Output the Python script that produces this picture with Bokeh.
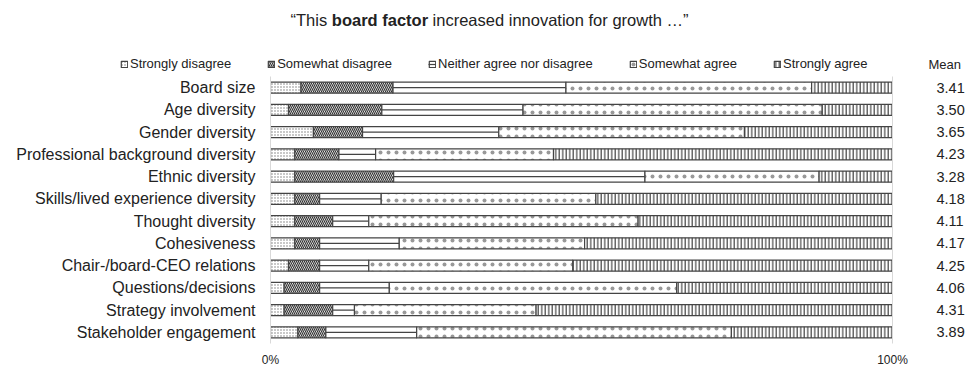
from bokeh.plotting import figure
from bokeh.layouts import column
from bokeh.models import (ColumnDataSource, FactorRange, Range1d, CategoricalAxis, FixedTicker,
                          Label, Legend, LegendItem)
from bokeh.embed import file_html
from bokeh.resources import INLINE

categories = ["Board size", "Age diversity", "Gender diversity", "Professional background diversity",
              "Ethnic diversity", "Skills/lived experience diversity", "Thought diversity", "Cohesiveness",
              "Chair-/board-CEO relations", "Questions/decisions", "Strategy involvement",
              "Stakeholder engagement"]
strongly_disagree = [4.9, 2.9, 6.9, 3.9, 3.9, 3.9, 3.9, 3.9, 2.9, 2.2, 2.2, 4.4]
somewhat_disagree = [14.8, 15.0, 7.9, 7.1, 15.9, 4.0, 6.1, 4.0, 5.0, 5.7, 7.8, 4.5]
neither = [27.8, 22.7, 21.9, 5.9, 40.4, 9.9, 5.8, 12.8, 7.9, 11.2, 3.5, 14.6]
somewhat_agree = [39.5, 48.1, 39.5, 28.6, 28.0, 34.5, 43.3, 29.8, 32.8, 46.2, 29.2, 50.6]
strongly_agree = [13.0, 11.3, 23.8, 54.5, 11.8, 47.7, 40.9, 49.5, 51.4, 34.7, 57.3, 25.9]
means = ["3.41", "3.50", "3.65", "4.23", "3.28", "4.18", "4.11", "4.17", "4.25", "4.06", "4.31", "3.89"]
series_names = ["Strongly disagree", "Somewhat disagree", "Neither agree nor disagree",
                "Somewhat agree", "Strongly agree"]
tick_labels = {0: "0%", 100: "100%"}

FONT = "Liberation Sans"
OUT = "#444444"
TXT = "#222222"

styles = [
    dict(fill_color="white", hatch_pattern=".", hatch_scale=3, hatch_weight=1.6, hatch_color="#777777"),
    dict(fill_color="white", hatch_pattern="\\", hatch_scale=4, hatch_weight=1.2, hatch_color="#333333"),
    dict(fill_color="white"),
    dict(fill_color="white", hatch_pattern=".", hatch_scale=8, hatch_weight=0.7, hatch_color="#999999"),
    dict(fill_color="white", hatch_pattern="|", hatch_scale=3.5, hatch_weight=1.1, hatch_color="#333333"),
]

# ---------- header figure: title, legend, "Mean" ----------
top = figure(width=967, height=76, x_range=Range1d(0, 967), y_range=Range1d(76, 0),
             x_axis_type=None, y_axis_type=None, output_backend="svg", toolbar_location=None,
             min_border=0, frame_align=False)
top.outline_line_color = None
top.xgrid.visible = False
top.ygrid.visible = False

items = []
for name, st in zip(series_names, styles):
    # legend-only renderers: one row with an undefined position, so nothing is drawn
    src = ColumnDataSource(dict(y=[float("nan")], left=[float("nan")], right=[float("nan")]))
    r = top.hbar(y="y", left="left", right="right", height=1, source=src,
                 line_color=OUT, line_width=1.2, **st)
    rs = [r]
    if name.startswith("Neither"):
        rs.append(top.segment(x0="left", x1="right", y0="y", y1="y", source=src,
                              line_color=OUT, line_width=1.2))
    items.append(LegendItem(label=name, renderers=rs))

legend = Legend(items=items, orientation="horizontal", location=(120, 5), margin=0, padding=0,
                spacing=36, glyph_width=8, glyph_height=8, label_standoff=2, label_height=13,
                label_text_font=FONT, label_text_font_size="13px", label_text_color=TXT,
                border_line_color=None, background_fill_alpha=0)
top.add_layout(legend, "center")

top.add_layout(Label(x=928, y=64, text="Mean", text_font=FONT, text_font_size="13px",
                     text_color=TXT, text_baseline="middle", text_align="left"))

for tx, txt, style in [(290, "\u201cThis", "normal"), (331.3, "board factor", "bold"),
                       (432.1, "increased innovation for growth \u2026\u201d", "normal")]:
    top.add_layout(Label(x=tx, y=19, text=txt, text_font=FONT, text_font_size="16.5px",
                         text_font_style=style, text_color=TXT, text_baseline="middle",
                         text_align="left"))

# ---------- main chart ----------
p = figure(width=967, height=293, y_range=FactorRange(*reversed(categories)), x_range=Range1d(0, 100),
           output_backend="svg", toolbar_location=None, frame_align=False,
           min_border_left=270, min_border_right=74, min_border_top=0, min_border_bottom=24)
p.outline_line_color = None
p.xgrid.visible = False
p.ygrid.visible = False
p.extra_y_ranges = {"means": FactorRange(*reversed(means))}

series = [strongly_disagree, somewhat_disagree, neither, somewhat_agree, strongly_agree]
left = [0.0] * len(categories)
for name, vals, st in zip(series_names, series, styles):
    right = [l + v for l, v in zip(left, vals)]
    src = ColumnDataSource(dict(y=categories, left=left, right=right))
    p.hbar(y="y", left="left", right="right", height=0.5, source=src,
           line_color=OUT, line_width=1.2, **st)
    if name.startswith("Neither"):
        p.segment(x0="left", x1="right", y0="y", y1="y", source=src, line_color=OUT, line_width=1.2)
    left = right

ya = p.yaxis[0]
ya.axis_line_color = "#d9d9d9"
ya.major_tick_line_color = None
ya.minor_tick_line_color = None
ya.major_tick_out = 0
ya.major_tick_in = 0
ya.major_label_standoff = 15
ya.major_label_text_font = FONT
ya.major_label_text_font_size = "16px"
ya.major_label_text_color = TXT

ra = CategoricalAxis(y_range_name="means")
ra.axis_line_color = "#d9d9d9"
ra.major_tick_line_color = None
ra.minor_tick_line_color = None
ra.major_tick_out = 0
ra.major_tick_in = 0
ra.major_label_standoff = 44
ra.major_label_text_font = FONT
ra.major_label_text_font_size = "14.5px"
ra.major_label_text_color = TXT
p.add_layout(ra, "right")

xa = p.xaxis[0]
xa.ticker = FixedTicker(ticks=list(tick_labels.keys()))
xa.major_label_overrides = tick_labels
xa.axis_line_color = None
xa.major_tick_line_color = None
xa.minor_tick_line_color = None
xa.major_tick_out = 0
xa.major_tick_in = 0
xa.major_label_standoff = 9
xa.major_label_text_font = FONT
xa.major_label_text_font_size = "12px"
xa.major_label_text_color = TXT

open("out.html", "w").write(file_html(column(top, p, spacing=0), INLINE))
